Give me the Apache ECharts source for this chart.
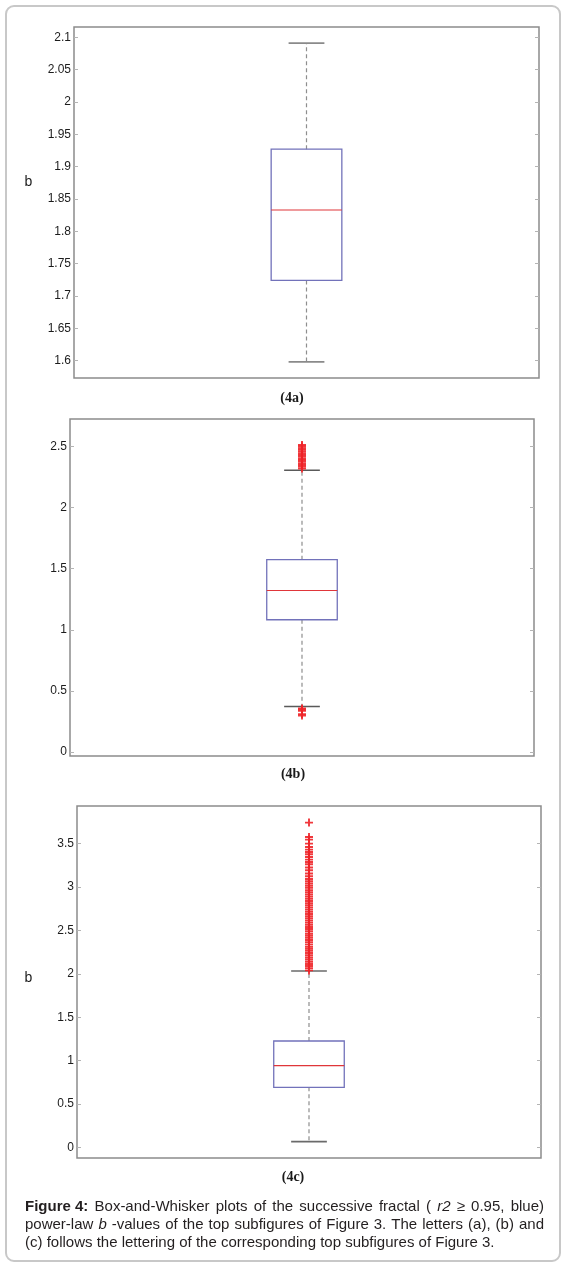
<!DOCTYPE html>
<html><head><meta charset="utf-8">
<script src="https://cdn.jsdelivr.net/npm/echarts@6/dist/echarts.min.js"></script>
<style>html,body{margin:0;padding:0;background:#fff}#c{width:570px;height:1270px}</style>
</head><body><div id="c"></div>
<script>
// ---------- data ----------
const panelLabels = ['(4a)', '(4b)', '(4c)'];
const yAxisTitle = 'b';
const categories = ['1'];
// box stats: [lower whisker, Q1, median, Q3, upper whisker]
const boxA = [1.598, 1.724, 1.833, 1.927, 2.091];
const boxB = [0.372, 1.082, 1.322, 1.574, 2.305];
const boxC = [0.069, 0.694, 0.944, 1.227, 2.033];
const outliersA = [];
const outliersB = [2.32, 2.335, 2.348, 2.362, 2.376, 2.39, 2.402, 2.417, 2.43, 2.445, 2.46, 2.472, 2.486, 2.5, 2.512,
                   0.356, 0.347, 0.337, 0.31, 0.298];
const outliersC = [2.04, 2.066, 2.09, 2.113, 2.14, 2.165, 2.188, 2.214, 2.24, 2.266, 2.29, 2.313, 2.34, 2.366,
                   2.39, 2.415, 2.44, 2.463, 2.49, 2.516, 2.54, 2.566, 2.59, 2.614, 2.64, 2.665, 2.69, 2.715,
                   2.74, 2.764, 2.79, 2.815, 2.84, 2.866, 2.89, 2.915, 2.94, 2.964, 2.99, 3.015, 3.04, 3.066, 3.092,
                   3.124, 3.155, 3.193, 3.224, 3.262, 3.288, 3.316, 3.346, 3.377, 3.403, 3.431, 3.461, 3.5,
                   3.546, 3.576, 3.742];
const ticksA = [1.6, 1.65, 1.7, 1.75, 1.8, 1.85, 1.9, 1.95, 2, 2.05, 2.1];
const ticksB = [0, 0.5, 1, 1.5, 2, 2.5];
const ticksC = [0, 0.5, 1, 1.5, 2, 2.5, 3, 3.5];
const rangeA = [1.573, 2.116];
const rangeB = [-0.033, 2.725];
const rangeC = [-0.12, 3.933];
const captionLines = [
  [['Figure 4:', 'bold'], ['Box-and-Whisker', ''], ['plots', ''], ['of', ''], ['the', ''], ['successive', ''],
   ['fractal', ''], ['(', ''], ['r2', 'italic'], ['\u2265', ''], ['0.95,', ''], ['blue)', '']],
  [['power-law', ''], ['b', 'italic'], ['-values', ''], ['of', ''], ['the', ''], ['top', ''], ['subfigures', ''],
   ['of', ''], ['Figure', ''], ['3.', ''], ['The', ''], ['letters', ''], ['(a),', ''], ['(b)', ''], ['and', '']],
  [['(c)', ''], ['follows', ''], ['the', ''], ['lettering', ''], ['of', ''], ['the', ''], ['corresponding', ''],
   ['top', ''], ['subfigures', ''], ['of', ''], ['Figure', ''], ['3.', '']]
];

// ---------- layout ----------
const panels = [
  {box: boxA, out: outliersA, ticks: ticksA, range: rangeA, grid: {left: 74, top: 27, width: 465, height: 351}, capColor: '#8a8a8a', label: [292, 398], title: [28.5, 182]},
  {box: boxB, out: outliersB, ticks: ticksB, range: rangeB, grid: {left: 70, top: 419, width: 464, height: 337}, capColor: '#5a5a5a', label: [293, 774], title: null},
  {box: boxC, out: outliersC, ticks: ticksC, range: rangeC, grid: {left: 77, top: 806, width: 464, height: 352}, capColor: '#6a6a6a', label: [293, 1177], title: [28.5, 978]}
];
const FONT = '"Liberation Sans", Arial, sans-serif';

function makeBoxRenderer(capColor) {
  return function (params, api) {
    const x = api.value(0);
    const band = api.size([1, 0])[0];
    const bw = band * 0.152, cw = band * 0.077;
    const p = k => api.coord([x, api.value(k)]);
    const lo = p(1), q1 = p(2), md = p(3), q3 = p(4), hi = p(5);
    const cx = lo[0];
    const wStyle = {stroke: '#8e8e8e', lineWidth: 1.2, lineDash: [4, 3], fill: null};
    const cStyle = {stroke: capColor, lineWidth: 1.6, fill: null};
    return {type: 'group', children: [
      {type: 'line', shape: {x1: cx, y1: q3[1], x2: cx, y2: hi[1]}, style: wStyle},
      {type: 'line', shape: {x1: cx, y1: q1[1], x2: cx, y2: lo[1]}, style: wStyle},
      {type: 'line', shape: {x1: cx - cw / 2, y1: hi[1], x2: cx + cw / 2, y2: hi[1]}, style: cStyle},
      {type: 'line', shape: {x1: cx - cw / 2, y1: lo[1], x2: cx + cw / 2, y2: lo[1]}, style: cStyle},
      {type: 'rect', shape: {x: cx - bw / 2, y: q3[1], width: bw, height: q1[1] - q3[1]}, style: {fill: null, stroke: '#7272ba', lineWidth: 1.3}},
      {type: 'line', shape: {x1: cx - bw / 2, y1: md[1], x2: cx + bw / 2, y2: md[1]}, style: {stroke: '#e0363a', lineWidth: 1.1}}
    ]};
  };
}

const grid = [], xAxis = [], yAxis = [], series = [], graphic = [];
panels.forEach((pn, i) => {
  grid.push(Object.assign({show: true, borderColor: '#8c8c8c', borderWidth: 1.5, backgroundColor: '#fff'}, pn.grid));
  xAxis.push({type: 'category', gridIndex: i, data: categories, axisLine: {show: false}, axisTick: {show: false}, axisLabel: {show: false}, splitLine: {show: false}});
  ['left', 'right'].forEach(pos => {
    yAxis.push({
      type: 'value', gridIndex: i, position: pos, min: pn.range[0], max: pn.range[1],
      axisLine: {show: false}, splitLine: {show: false},
      axisTick: {show: true, inside: true, length: 4, customValues: pn.ticks, lineStyle: {color: '#b4b4b4', width: 1}},
      axisLabel: {show: pos === 'left', customValues: pn.ticks, margin: 3, fontSize: 12, color: '#1c1c1c', fontFamily: FONT,
                  formatter: v => String(+(+v).toFixed(4))}
    });
  });
  series.push({type: 'custom', xAxisIndex: i, yAxisIndex: 2 * i, data: [[0].concat(pn.box)], renderItem: makeBoxRenderer(pn.capColor), z: 2, silent: true});
  series.push({type: 'scatter', xAxisIndex: i, yAxisIndex: 2 * i, data: pn.out.map(v => [0, v]), z: 3, silent: true,
    symbol: 'path://M3.8,0 h2.4 v3.8 h3.8 v2.4 h-3.8 v3.8 h-2.4 v-3.8 h-3.8 v-2.4 h3.8 z', symbolSize: 8,
    itemStyle: {color: '#ee2428', opacity: 0.9}});
  graphic.push({type: 'text', x: pn.label[0], y: pn.label[1], style: {text: panelLabels[i], font: 'bold 14px "Liberation Serif", "Times New Roman", serif', fill: '#1a1a1a', align: 'center', verticalAlign: 'middle', textAlign: 'center', textVerticalAlign: 'middle'}});
  if (pn.title) graphic.push({type: 'text', x: pn.title[0], y: pn.title[1], style: {text: yAxisTitle, font: '14px ' + FONT, fill: '#1a1a1a', align: 'center', verticalAlign: 'middle', textAlign: 'center', textVerticalAlign: 'middle'}});
});

// outer frame
graphic.push({type: 'rect', shape: {x: 6, y: 6, width: 554, height: 1255, r: 8}, style: {fill: null, stroke: '#c8c8c8', lineWidth: 2}, z: -10});

// caption, justified per word
const ctx = document.createElement('canvas').getContext('2d');
const capFont = w => (w === 'bold' ? 'bold ' : w === 'italic' ? 'italic ' : '') + '15px ' + FONT;
const capLeft = 25, capRight = 544, capY = [1207, 1225, 1243];
captionLines.forEach((line, li) => {
  const widths = line.map(([t, w]) => { ctx.font = capFont(w); return ctx.measureText(t).width; });
  ctx.font = capFont('');
  const space = ctx.measureText(' ').width;
  const total = widths.reduce((a, b) => a + b, 0);
  const justify = li < captionLines.length - 1;
  const gap = justify ? (capRight - capLeft - total) / (line.length - 1) : space;
  let x = capLeft;
  line.forEach(([t, w], k) => {
    graphic.push({type: 'text', x: x, y: capY[li], style: {text: t, font: capFont(w), fill: '#231f20', align: 'left', verticalAlign: 'middle', textAlign: 'left', textVerticalAlign: 'middle'}});
    x += widths[k] + gap;
  });
});

const chart = echarts.init(document.getElementById('c'), null, {renderer: 'canvas'});
chart.setOption({animation: false, backgroundColor: '#fff', grid, xAxis, yAxis, series, graphic});
</script>
</body></html>
